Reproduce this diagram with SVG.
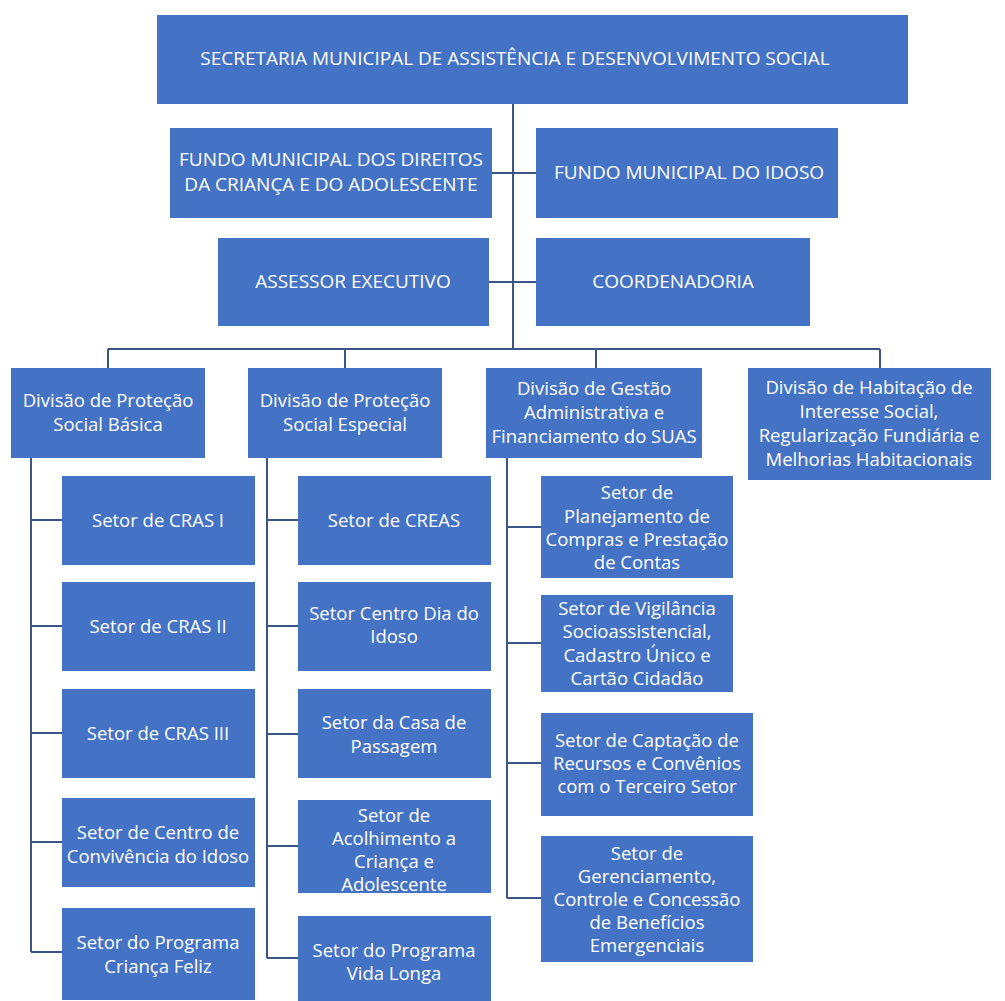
<svg xmlns="http://www.w3.org/2000/svg" width="1005" height="1001" viewBox="0 0 1005 1001">
<style>
.box{fill:#4472C4;}
.t{fill:#ffffff;font-family:"Open Sans","Liberation Sans",sans-serif;font-size:18.5px;text-anchor:middle;}
.tc{fill:#ffffff;font-family:"Open Sans","Liberation Sans",sans-serif;font-size:19px;text-anchor:middle;}
.ln{stroke:#3d5486;stroke-width:2;fill:none;}
</style>
<rect width="1005" height="1001" fill="#ffffff"/>
<g id="connectors">
<path class="ln" d="M513 104V349"/>
<path class="ln" d="M492 173H536M489 282H536"/>
<path class="ln" d="M108 349H880M108 349V368M345 349V368M596 349V368M880 349V368"/>
<path class="ln" d="M31 458V952M31 520H62M31 626H62M31 733H62M31 842H62M31 952H62"/>
<path class="ln" d="M267 458V958M267 520H298M267 626H298M267 734H298M267 846H298M267 958H298"/>
<path class="ln" d="M507 458V898M507 527H541M507 643H541M507 763H541M507 898H541"/>
</g>
<g id="secretaria"><rect class="box" x="157" y="15" width="751" height="89"/><text class="tc" x="515" y="65">SECRETARIA MUNICIPAL DE ASSISTÊNCIA E DESENVOLVIMENTO SOCIAL</text></g>
<g id="fundo-dca"><rect class="box" x="170" y="128" width="322" height="90"/><text class="tc" x="331" y="166">FUNDO MUNICIPAL DOS DIREITOS</text><text class="tc" x="331" y="191">DA CRIANÇA E DO ADOLESCENTE</text></g>
<g id="fundo-idoso"><rect class="box" x="536" y="128" width="302" height="90"/><text class="tc" x="689" y="179">FUNDO MUNICIPAL DO IDOSO</text></g>
<g id="assessor"><rect class="box" x="218" y="238" width="271" height="88"/><text class="tc" x="353" y="288">ASSESSOR EXECUTIVO</text></g>
<g id="coordenadoria"><rect class="box" x="536" y="238" width="274" height="88"/><text class="tc" x="673" y="288">COORDENADORIA</text></g>
<g id="div-basica"><rect class="box" x="11" y="368" width="194" height="90"/><text class="t" x="108" y="407">Divisão de Proteção</text><text class="t" x="108" y="431">Social Básica</text></g>
<g id="div-especial"><rect class="box" x="248" y="368" width="194" height="90"/><text class="t" x="345" y="407">Divisão de Proteção</text><text class="t" x="345" y="431">Social Especial</text></g>
<g id="div-gestao"><rect class="box" x="486" y="368" width="216" height="90"/><text class="t" x="594" y="395">Divisão de Gestão</text><text class="t" x="594" y="419">Administrativa e</text><text class="t" x="594" y="443">Financiamento do SUAS</text></g>
<g id="div-habitacao"><rect class="box" x="748" y="368" width="243" height="112"/><text class="t" x="869" y="394">Divisão de Habitação de</text><text class="t" x="869" y="418">Interesse Social,</text><text class="t" x="869" y="442">Regularização Fundiária e</text><text class="t" x="869" y="466">Melhorias Habitacionais</text></g>
<g id="cras1"><rect class="box" x="62" y="476" width="193" height="89"/><text class="t" x="158" y="527">Setor de CRAS I</text></g>
<g id="cras2"><rect class="box" x="62" y="582" width="193" height="89"/><text class="t" x="158" y="633">Setor de CRAS II</text></g>
<g id="cras3"><rect class="box" x="62" y="689" width="193" height="89"/><text class="t" x="158" y="740">Setor de CRAS III</text></g>
<g id="centro-conv"><rect class="box" x="62" y="798" width="193" height="89"/><text class="t" x="158" y="839">Setor de Centro de</text><text class="t" x="158" y="863">Convivência do Idoso</text></g>
<g id="crianca-feliz"><rect class="box" x="62" y="908" width="193" height="92"/><text class="t" x="158" y="949">Setor do Programa</text><text class="t" x="158" y="973">Criança Feliz</text></g>
<g id="creas"><rect class="box" x="298" y="476" width="193" height="89"/><text class="t" x="394" y="527">Setor de CREAS</text></g>
<g id="centro-dia"><rect class="box" x="298" y="582" width="193" height="89"/><text class="t" x="394" y="620">Setor Centro Dia do</text><text class="t" x="394" y="643">Idoso</text></g>
<g id="casa-passagem"><rect class="box" x="298" y="689" width="193" height="89"/><text class="t" x="394" y="729">Setor da Casa de</text><text class="t" x="394" y="753">Passagem</text></g>
<g id="acolhimento"><rect class="box" x="298" y="800" width="193" height="93"/><text class="t" x="394" y="822">Setor de</text><text class="t" x="394" y="845">Acolhimento a</text><text class="t" x="394" y="868">Criança e</text><text class="t" x="394" y="891">Adolescente</text></g>
<g id="vida-longa"><rect class="box" x="298" y="916" width="193" height="85"/><text class="t" x="394" y="957">Setor do Programa</text><text class="t" x="394" y="980">Vida Longa</text></g>
<g id="planejamento"><rect class="box" x="541" y="476" width="192" height="102"/><text class="t" x="637" y="499">Setor de</text><text class="t" x="637" y="523">Planejamento de</text><text class="t" x="637" y="546">Compras e Prestação</text><text class="t" x="637" y="569">de Contas</text></g>
<g id="vigilancia"><rect class="box" x="541" y="595" width="192" height="97"/><text class="t" x="637" y="615">Setor de Vigilância</text><text class="t" x="637" y="638">Socioassistencial,</text><text class="t" x="637" y="662">Cadastro Único e</text><text class="t" x="637" y="685">Cartão Cidadão</text></g>
<g id="captacao"><rect class="box" x="541" y="713" width="212" height="103"/><text class="t" x="647" y="747">Setor de Captação de</text><text class="t" x="647" y="770">Recursos e Convênios</text><text class="t" x="647" y="793">com o Terceiro Setor</text></g>
<g id="gerenciamento"><rect class="box" x="541" y="836" width="212" height="126"/><text class="t" x="647" y="860">Setor de</text><text class="t" x="647" y="883">Gerenciamento,</text><text class="t" x="647" y="906">Controle e Concessão</text><text class="t" x="647" y="929">de Benefícios</text><text class="t" x="647" y="952">Emergenciais</text></g>
</svg>
